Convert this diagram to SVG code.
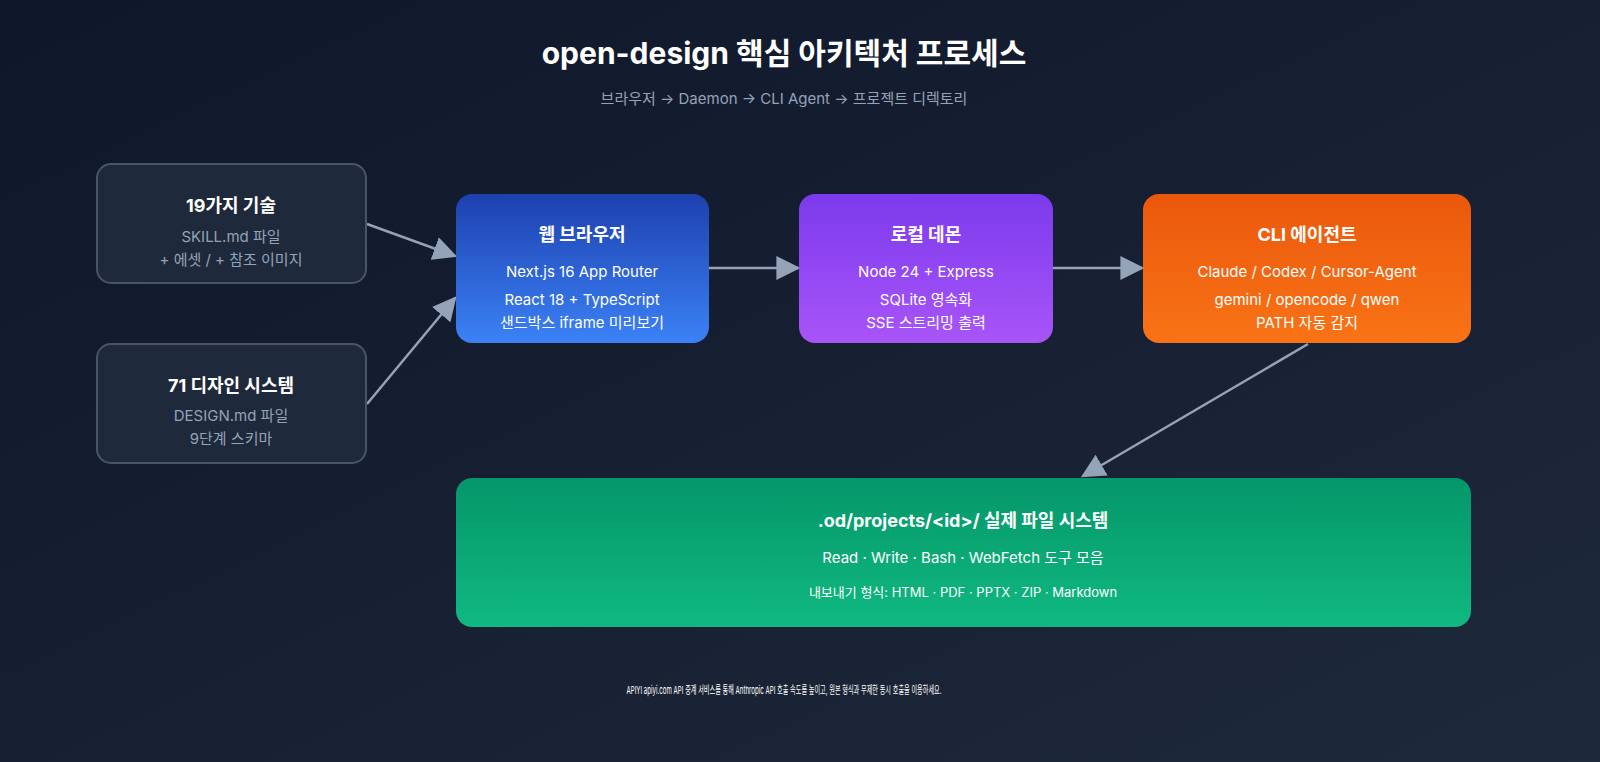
<svg xmlns="http://www.w3.org/2000/svg" width="1600" height="762" viewBox="0 0 1600 762">
<defs>
<linearGradient id="bg" x1="0" y1="0" x2="1" y2="1"><stop offset="0" stop-color="#0f172a"/><stop offset="1" stop-color="#1e293b"/></linearGradient>
<linearGradient id="gb" x1="0" y1="0" x2="0" y2="1"><stop offset="0" stop-color="#1e40af"/><stop offset="1" stop-color="#3b82f6"/></linearGradient>
<linearGradient id="gp" x1="0" y1="0" x2="0" y2="1"><stop offset="0" stop-color="#7c3aed"/><stop offset="1" stop-color="#a855f7"/></linearGradient>
<linearGradient id="go" x1="0" y1="0" x2="0" y2="1"><stop offset="0" stop-color="#ea580c"/><stop offset="1" stop-color="#f97316"/></linearGradient>
<linearGradient id="gg" x1="0" y1="0" x2="0" y2="1"><stop offset="0" stop-color="#059669"/><stop offset="1" stop-color="#10b981"/></linearGradient>
<marker id="ah" viewBox="0 0 10 10" refX="9" refY="5" markerWidth="10" markerHeight="10" markerUnits="userSpaceOnUse" orient="auto"><path d="M0,0L10,5L0,10z" fill="#94a3b8"/></marker>
<marker id="ah2" viewBox="0 0 10 10" refX="9" refY="5" markerWidth="24" markerHeight="24" markerUnits="userSpaceOnUse" orient="auto"><path d="M0,0L10,5L0,10z" fill="#94a3b8"/></marker>
</defs>
<style>
text{font-family:Inter,"Noto Sans","Noto Sans CJK KR",sans-serif;text-anchor:middle}
.t{font-size:18px;font-weight:700;fill:#fff}
.s{font-size:15px;fill:#fff}
.g{font-size:15px;fill:#94a3b8}
.side{fill:#1e293b;stroke:#475569;stroke-width:2}
.c{stroke:#94a3b8;stroke-width:2.5;fill:none;marker-end:url(#ah2)}
</style>
<rect width="1600" height="762" fill="url(#bg)"/>
<text x="784" y="64" font-size="30" font-weight="700" fill="#fff">open-design 핵심 아키텍처 프로세스</text>
<text x="784" y="104" font-size="15" fill="#94a3b8">브라우저 → Daemon → CLI Agent → 프로젝트 디렉토리</text>
<g id="connectors">
<line class="c" x1="367" y1="224" x2="455" y2="256"/>
<line class="c" x1="367" y1="404" x2="455" y2="298"/>
<line class="c" x1="709" y1="268" x2="798" y2="268"/>
<line class="c" x1="1053" y1="268" x2="1142" y2="268"/>
<line class="c" x1="1308" y1="344" x2="1083" y2="476"/>
</g>
<g id="skills"><rect class="side" x="97" y="164" width="269" height="119" rx="14"/>
<text class="t" x="231" y="212">19가지 기술</text><text class="g" x="231" y="242">SKILL.md 파일</text><text class="g" x="231" y="265">+ 에셋 / + 참조 이미지</text></g>
<g id="design"><rect class="side" x="97" y="344" width="269" height="119" rx="14"/>
<text class="t" x="231" y="392">71 디자인 시스템</text><text class="g" x="231" y="421">DESIGN.md 파일</text><text class="g" x="231" y="444">9단계 스키마</text></g>
<g id="browser"><rect x="456" y="194" width="253" height="149" rx="16" fill="url(#gb)"/>
<text class="t" x="582" y="241">웹 브라우저</text><text class="s" x="582" y="277">Next.js 16 App Router</text><text class="s" x="582" y="305">React 18 + TypeScript</text><text class="s" x="582" y="328">샌드박스 iframe 미리보기</text></g>
<g id="daemon"><rect x="799" y="194" width="254" height="149" rx="16" fill="url(#gp)"/>
<text class="t" x="926" y="241">로컬 데몬</text><text class="s" x="926" y="277">Node 24 + Express</text><text class="s" x="926" y="305">SQLite 영속화</text><text class="s" x="926" y="328">SSE 스트리밍 출력</text></g>
<g id="cli"><rect x="1143" y="194" width="328" height="149" rx="16" fill="url(#go)"/>
<text class="t" x="1307" y="241">CLI 에이전트</text><text class="s" x="1307" y="277">Claude / Codex / Cursor-Agent</text><text class="s" x="1307" y="305">gemini / opencode / qwen</text><text class="s" x="1307" y="328">PATH 자동 감지</text></g>
<g id="fs"><rect x="456" y="478" width="1015" height="149" rx="16" fill="url(#gg)"/>
<text class="t" x="963" y="527">.od/projects/&lt;id&gt;/ 실제 파일 시스템</text><text class="s" x="963" y="563">Read · Write · Bash · WebFetch 도구 모음</text><text x="963" y="597" font-size="13" fill="#fff">내보내기 형식: HTML · PDF · PPTX · ZIP · Markdown</text></g>
<text x="784" y="694" font-size="11" fill="#fff" textLength="315" lengthAdjust="spacingAndGlyphs">APIYI apiyi.com API 중계 서비스를 통해 Anthropic API 호출 속도를 높이고, 원본 형식과 무제한 동시 호출을 이용하세요.</text>
</svg>
